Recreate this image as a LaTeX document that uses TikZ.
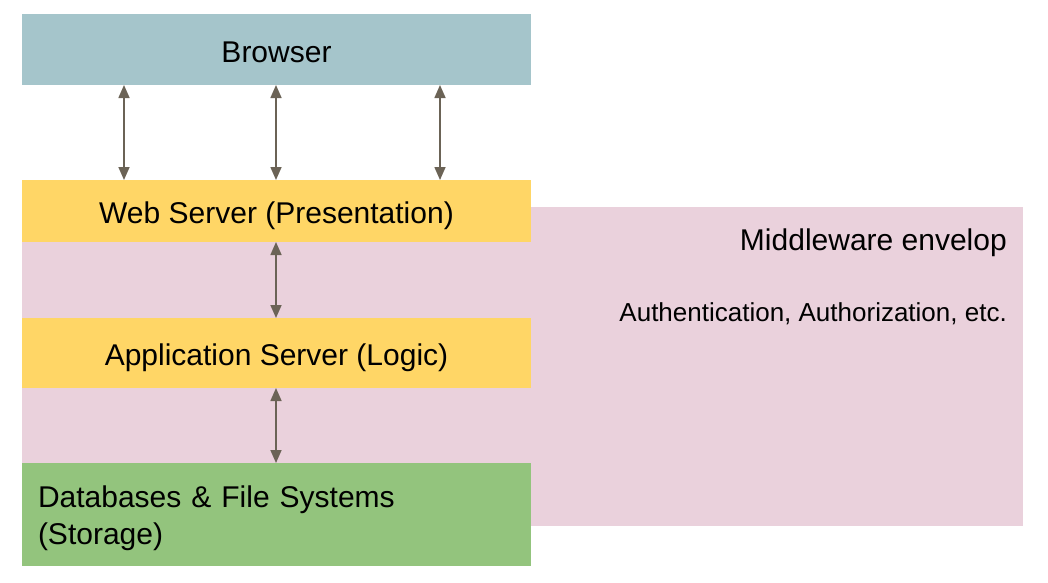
\documentclass[tikz,border=0pt]{standalone}
\usepackage{fontspec}
\setmainfont{Liberation Sans}
\usetikzlibrary{arrows.meta}
\definecolor{browsercol}{HTML}{A5C5CB}
\definecolor{servercol}{HTML}{FFD666}
\definecolor{envcol}{HTML}{EAD1DC}
\definecolor{storecol}{HTML}{93C47D}
\definecolor{arrcol}{HTML}{6B6356}
\begin{document}
\begin{tikzpicture}[x=1pt,y=-1pt,
  layer/.style={rectangle, inner sep=0pt, outer sep=0pt, minimum width=509pt,
    font=\fontsize{30}{36}\selectfont, text=black},
  ctext/.style={text height=25pt, text depth=0pt},
  arr/.style={draw=arrcol, line width=1.6pt,
    {Triangle[width=11pt,length=13pt]}-{Triangle[width=11pt,length=13pt]}},
  envtext/.style={anchor=east, inner sep=0pt, text=black}]
\useasboundingbox (0,0) rectangle (1048,582);
\node[rectangle, fill=envcol, inner sep=0pt, minimum width=1001pt, minimum height=319pt] (env) at (522.5,366.5) {};
\node[layer, ctext, fill=browsercol, minimum height=71pt] (browser) at (276.5,49.5) {Browser};
\node[layer, ctext, fill=servercol, minimum height=62pt] (web) at (276.5,211) {Web Server (Presentation)};
\node[layer, ctext, fill=servercol, minimum height=70pt] (app) at (276.5,353) {Application Server (Logic)};
\node[layer, fill=storecol, minimum height=103pt, text width=477pt, inner xsep=16pt, align=left,
  font=\fontsize{30}{37}\selectfont] (db) at (276.5,514.5) {\rule{0pt}{30pt}Databases \& File Systems\\(Storage)};
\node[envtext, font=\fontsize{30}{36}\selectfont] (mw) at (1007,243) {Middleware envelop};
\node[envtext, font=\fontsize{26}{31}\selectfont] (auth) at (1007,314) {Authentication, Authorization, etc.};
\coordinate (c1) at (124,0);
\coordinate (c2) at (276,0);
\coordinate (c3) at (440,0);
\draw[arr] (browser.south -| c1) -- (web.north -| c1);
\draw[arr] (browser.south -| c2) -- (web.north -| c2);
\draw[arr] (browser.south -| c3) -- (web.north -| c3);
\draw[arr] (web.south -| c2) -- (app.north -| c2);
\draw[arr] (app.south -| c2) -- (db.north -| c2);
\end{tikzpicture}
\end{document}
